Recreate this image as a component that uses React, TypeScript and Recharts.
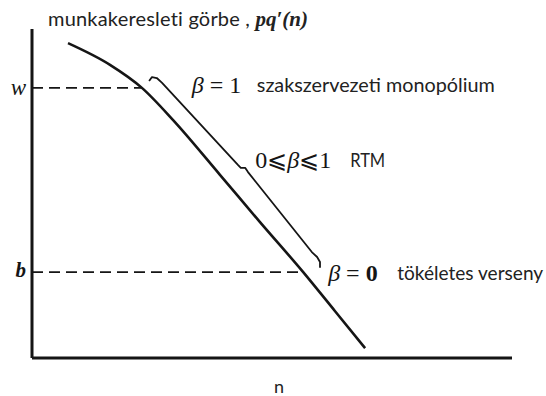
import { ComposedChart, Line, XAxis, YAxis, ReferenceLine, ReferenceDot } from "recharts";

// labour demand curve pq'(n): employment n against the wage
const demandN = [7.5, 16.25, 22.9, 29.4, 39.2, 47.5, 56.5, 63.1, 69.4];
const demandWage = [95.7, 89.1, 82.1, 72.3, 55.6, 41.3, 26.1, 14.3, 3.0];

// union wage w and outside option b sit where the curve crosses them
const wLevel = demandWage[2];
const bLevel = demandWage[6];

// brace marking the bargaining range along the curve
const braceN = [24.4, 25.0, 26.0, 27.1, 42.9, 43.5, 44.4, 45.0, 58.3, 59.4, 60.0, 60.0];
const braceWage = [84.2, 85.4, 85.1, 83.6, 58.7, 57.8, 57.8, 56.5, 32.2, 30.7, 29.2, 27.4];

const demand = demandN.map((n, i) => ({ n, wage: demandWage[i] }));
const brace = braceN.map((n, i) => ({ n, wage: braceWage[i] }));

const INK = "#151515";
const SANS = "Lato, 'Noto Sans', sans-serif";
const SERIF = "'Liberation Serif', 'DejaVu Serif', serif";

function WageTick(props: any) {
  const { x, y, payload } = props;
  const isW = payload.value === wLevel;
  return (
    <text
      x={x}
      y={y + (isW ? 7 : 5)}
      textAnchor="end"
      fontFamily={SERIF}
      fontStyle="italic"
      fontWeight={isW ? "normal" : "bold"}
      fontSize={isW ? 23 : 21}
      fill={INK}
    >
      {isW ? "w" : "b"}
    </text>
  );
}

function Note(props: any) {
  const { viewBox, parts, words, gap, span } = props;
  const x = viewBox.x;
  const y = viewBox.y;
  return (
    <g>
      <text x={x} y={y} fontFamily={SERIF} fontSize={24} fill={INK}>
        {parts.map((p: any, i: number) => (
          <tspan key={i} fontStyle={p.italic ? "italic" : "normal"} fontWeight={p.bold ? "bold" : "normal"}>
            {p.t}
          </tspan>
        ))}
      </text>
      <text
        x={x + gap}
        y={y - 1}
        fontFamily={SANS}
        fontSize={19}
        fill="#222"
        textLength={span}
        lengthAdjust="spacingAndGlyphs"
      >
        {words}
      </text>
    </g>
  );
}

export default function App() {
  return (
    <div style={{ position: "absolute", left: 0, top: 0, width: 546, height: 396, background: "#fff" }}>
      <div
        style={{
          position: "absolute",
          left: 48,
          top: 6,
          fontFamily: SANS,
          fontSize: 20,
          letterSpacing: 0.2,
          color: "#222",
          whiteSpace: "nowrap",
          zIndex: 1,
        }}
      >
        munkakeresleti görbe ,{" "}
        <span style={{ fontFamily: SERIF, fontStyle: "italic", fontWeight: "bold", fontSize: 21, letterSpacing: 0 }}>pq′(n)</span>
      </div>
      <ComposedChart width={546} height={396} margin={{ top: 29, right: 34, bottom: 0, left: 0 }}>
        <XAxis
          dataKey="n"
          type="number"
          domain={[0, 100]}
          ticks={[]}
          height={38}
          axisLine={{ stroke: INK, strokeWidth: 3 }}
          tickLine={false}
          label={{ value: "n", position: "insideBottom", offset: 3, dx: 7, fontFamily: SANS, fontSize: 18, fill: "#222" }}
        />
        <YAxis
          type="number"
          domain={[0, 100]}
          ticks={[bLevel, wLevel]}
          width={32}
          axisLine={{ stroke: INK, strokeWidth: 3 }}
          tickLine={false}
          tickSize={0}
          tickMargin={6}
          tick={<WageTick />}
        />
        <ReferenceLine
          segment={[{ x: 0, y: wLevel }, { x: demandN[2], y: wLevel }]}
          stroke={INK}
          strokeWidth={1.6}
          strokeDasharray="11 6"
        />
        <ReferenceLine
          segment={[{ x: 0, y: bLevel }, { x: demandN[6], y: bLevel }]}
          stroke={INK}
          strokeWidth={1.6}
          strokeDasharray="11 6"
        />
        <Line
          data={demand}
          dataKey="wage"
          type="monotone"
          stroke={INK}
          strokeWidth={2.6}
          dot={false}
          isAnimationActive={false}
        />
        <Line
          data={brace}
          dataKey="wage"
          type="linear"
          stroke={INK}
          strokeWidth={1.8}
          strokeLinejoin="round"
          dot={false}
          isAnimationActive={false}
        />
        <ReferenceDot
          x={33.3}
          y={80.5}
          r={0}
          ifOverflow="visible"
          label={{
            content: (p: any) => (
              <Note
                viewBox={p.viewBox}
                gap={65}
                span={238}
                words="szakszervezeti monopólium"
                parts={[{ t: "β", italic: true }, { t: " = 1" }]}
              />
            ),
          }}
        />
        <ReferenceDot
          x={46.5}
          y={57.8}
          r={0}
          ifOverflow="visible"
          label={{
            content: (p: any) => (
              <Note
                viewBox={p.viewBox}
                gap={95}
                span={35}
                words="RTM"
                parts={[{ t: "0⩽" }, { t: "β", italic: true }, { t: "⩽1" }]}
              />
            ),
          }}
        />
        <ReferenceDot
          x={61.7}
          y={23.4}
          r={0}
          ifOverflow="visible"
          label={{
            content: (p: any) => (
              <Note
                viewBox={p.viewBox}
                gap={69}
                span={146}
                words="tökéletes verseny"
                parts={[{ t: "β", italic: true }, { t: " = " }, { t: "0", bold: true }]}
              />
            ),
          }}
        />
      </ComposedChart>
    </div>
  );
}
